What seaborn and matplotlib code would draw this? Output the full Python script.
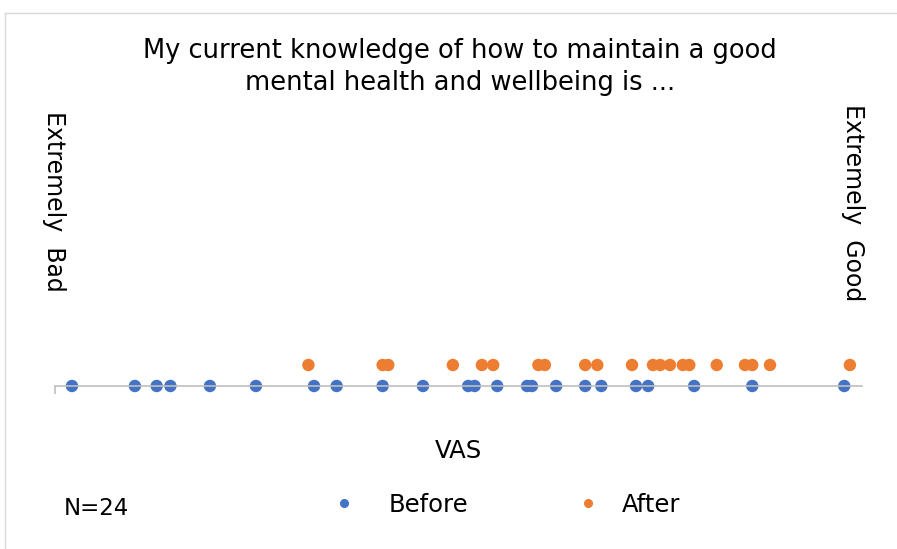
import pandas as pd
import seaborn as sns
import matplotlib.pyplot as plt
from matplotlib.lines import Line2D

# VAS scores (0 = Extremely Bad, 100 = Extremely Good)
before = [2.1, 9.9, 12.6, 14.3, 19.2, 24.9, 32.1, 34.9, 40.6, 45.6, 51.2, 52.0,
          54.8, 58.5, 59.1, 62.1, 65.7, 67.7, 72.0, 73.5, 79.2, 86.4, 97.8]
after = [31.4, 40.6, 41.3, 49.3, 52.9, 54.3, 59.9, 60.7, 65.7, 67.2, 71.5,
         74.1, 75.0, 76.2, 77.8, 78.6, 82.0, 85.5, 86.4, 88.6, 98.5]
groups = ['Before', 'After']
colors = ['#4472C4', '#ED7D31']

df = pd.DataFrame({
    'VAS': before + after,
    'Group': ['Before'] * len(before) + ['After'] * len(after),
})
# stack the groups on two rows just above the line
df['row'] = df['Group'].map({'Before': 0, 'After': 1})

plt.rcParams['font.family'] = ['DejaVu Sans']

fig = plt.figure(figsize=(8.97, 5.49), dpi=100)
ax = fig.add_axes([55 / 897, 163 / 549, 807 / 897, 273 / 549])

sns.scatterplot(data=df, x='VAS', y='row', hue='Group', hue_order=groups,
                palette=colors, s=80, edgecolor='none', legend=False,
                clip_on=False, ax=ax)

ax.set_xlim(0, 100)
ax.set_ylim(0, 13)
ax.set_xticks([0])
ax.set_xticklabels([])
ax.tick_params(axis='x', length=6, color='#BFBFBF', width=1.2)
ax.set_yticks([])
for side in ['top', 'right', 'left']:
    ax.spines[side].set_visible(False)
ax.spines['bottom'].set_color('#BFBFBF')
ax.spines['bottom'].set_linewidth(1.2)
ax.set_xlabel('')
ax.set_ylabel('')
ax.patch.set_alpha(0)

# chart frame (left and top edges visible)
fig.add_artist(Line2D([5 / 897, 5 / 897], [0, 1 - 13 / 549], color='#D9D9D9', lw=1))
fig.add_artist(Line2D([5 / 897, 1], [1 - 13 / 549, 1 - 13 / 549], color='#D9D9D9', lw=1))

fig.text(460 / 897, 1 - 67 / 549,
         'My current knowledge of how to maintain a good\nmental health and wellbeing is ...',
         ha='center', va='center', fontsize=18.5, linespacing=1.33)
fig.text(54 / 897, 1 - 201 / 549, 'Extremely  Bad', rotation=270,
         ha='center', va='center', fontsize=17)
fig.text(853 / 897, 1 - 203 / 549, 'Extremely  Good', rotation=270,
         ha='center', va='center', fontsize=17)
fig.text(458 / 897, 1 - 458 / 549, 'VAS', ha='center', va='baseline', fontsize=17.5)
fig.text(64 / 897, 1 - 515 / 549, 'N=24', ha='left', va='baseline', fontsize=16.5)

# one legend entry each, so each can sit where the original has it
handles = [Line2D([], [], ls='none', marker='o', ms=5.5, color=c) for c in colors]
leg_x = [332, 576]
leg_pad = [1.35, 0.9]
for h, lab, lx, pad in zip(handles, groups, leg_x, leg_pad):
    fig.legend([h], [lab], loc='center left', bbox_to_anchor=(lx / 897, 1 - 505 / 549),
               frameon=False, fontsize=17.5, handletextpad=pad,
               handlelength=1, borderpad=0, borderaxespad=0)

fig.savefig('out.png', dpi=100)
